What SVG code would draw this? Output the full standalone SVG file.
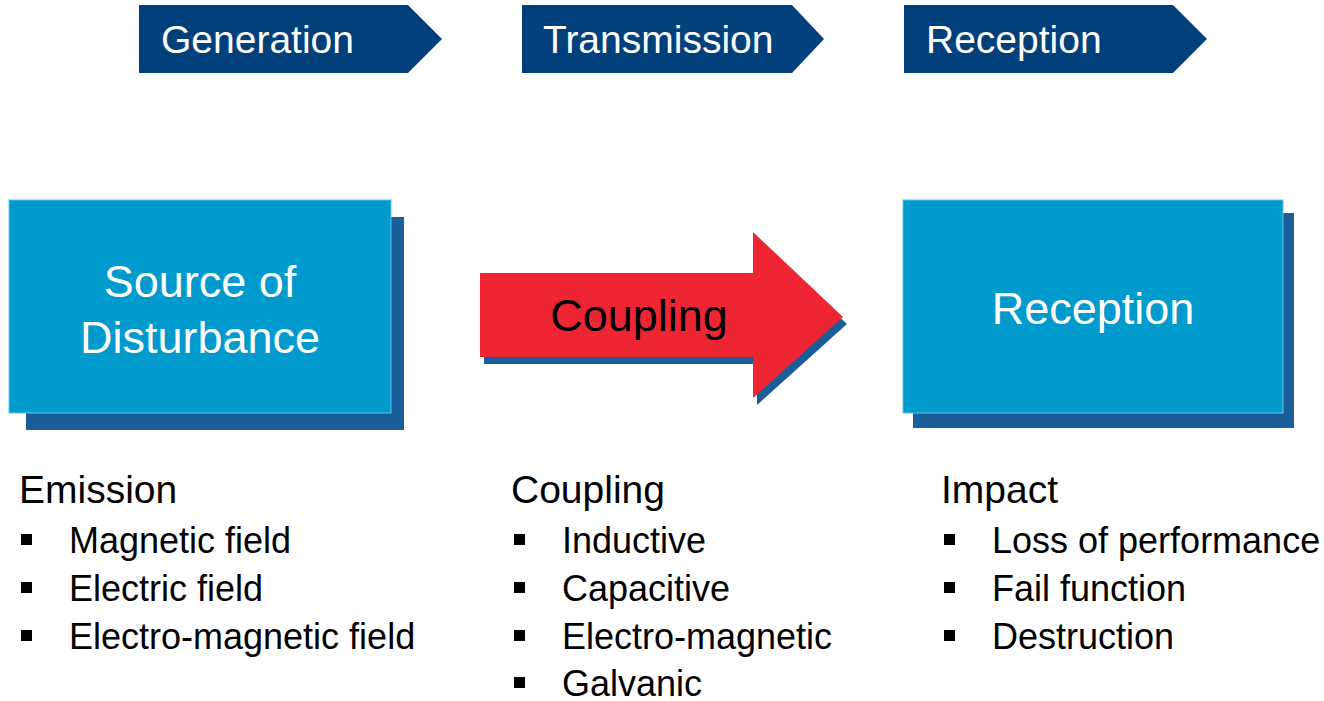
<svg xmlns="http://www.w3.org/2000/svg" width="1324" height="701" viewBox="0 0 1324 701">
<style>
text{font-family:"Liberation Sans",Arial,sans-serif}
.chev{fill:#01407A}
.chevt{fill:#fff;font-size:39px}
.box{fill:#009ACD;stroke:#5CC8EA;stroke-width:1}
.shadow{fill:#1A5D99}
.boxt{fill:#fff;font-size:45px;text-anchor:middle}
.head{fill:#000;font-size:39px}
.item{fill:#000;font-size:36px}
.bul{fill:#000}
</style>
<rect width="1324" height="701" fill="#fff"/>
<g id="stage-generation">
<polygon class="chev" points="139,5 408,5 442,39 408,73 139,73"/>
<text class="chevt" x="161" y="53">Generation</text>
</g>
<g id="stage-transmission">
<polygon class="chev" points="522,5 792,5 824,39 792,73 522,73"/>
<text class="chevt" x="543" y="53">Transmission</text>
</g>
<g id="stage-reception">
<polygon class="chev" points="904,5 1173,5 1207,39 1173,73 904,73"/>
<text class="chevt" x="926" y="53">Reception</text>
</g>
<g id="source">
<rect class="shadow" x="26" y="217" width="378" height="213"/>
<rect class="box" x="9" y="200" width="382" height="213"/>
<text class="boxt" x="200" y="297">Source of</text>
<text class="boxt" x="200" y="353">Disturbance</text>
</g>
<g id="coupling-arrow">
<polygon class="shadow" points="484,280 757,280 757,239 847,324 757,405 757,364 484,364"/>
<polygon fill="#EE2533" points="480,273 753,273 753,232 843,317 753,398 753,357 480,357"/>
<text x="639" y="331" style="font-size:45px;fill:#000;text-anchor:middle">Coupling</text>
</g>
<g id="reception">
<rect class="shadow" x="913" y="213" width="381" height="215"/>
<rect class="box" x="903" y="200" width="380" height="213"/>
<text class="boxt" x="1093" y="324">Reception</text>
</g>
<g id="emission-list">
<text class="head" x="19" y="503">Emission</text>
<rect class="bul" x="21" y="534" width="11" height="11"/>
<text class="item" x="69" y="553">Magnetic field</text>
<rect class="bul" x="21" y="582" width="11" height="11"/>
<text class="item" x="69" y="601">Electric field</text>
<rect class="bul" x="21" y="630" width="11" height="11"/>
<text class="item" x="69" y="649">Electro-magnetic field</text>
</g>
<g id="coupling-list">
<text class="head" x="511" y="503">Coupling</text>
<rect class="bul" x="514" y="534" width="11" height="11"/>
<text class="item" x="562" y="553">Inductive</text>
<rect class="bul" x="514" y="582" width="11" height="11"/>
<text class="item" x="562" y="601">Capacitive</text>
<rect class="bul" x="514" y="630" width="11" height="11"/>
<text class="item" x="562" y="649">Electro-magnetic</text>
<rect class="bul" x="514" y="677" width="11" height="11"/>
<text class="item" x="562" y="696">Galvanic</text>
</g>
<g id="impact-list">
<text class="head" x="941" y="503">Impact</text>
<rect class="bul" x="944" y="534" width="11" height="11"/>
<text class="item" x="992" y="553">Loss of performance</text>
<rect class="bul" x="944" y="582" width="11" height="11"/>
<text class="item" x="992" y="601">Fail function</text>
<rect class="bul" x="944" y="630" width="11" height="11"/>
<text class="item" x="992" y="649">Destruction</text>
</g>
<g id="connectors"></g>
</svg>
